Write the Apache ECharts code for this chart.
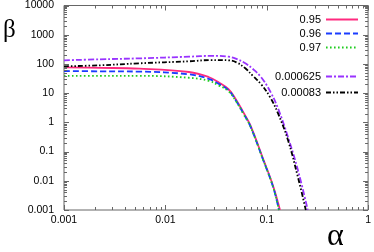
<!DOCTYPE html>
<html>
<head>
<meta charset="utf-8">
<script src="https://cdn.jsdelivr.net/npm/echarts@6/dist/echarts.min.js"></script>
<style>html,body{margin:0;padding:0;background:#fff}#c{width:374px;height:252px}</style>
</head>
<body>
<div id="c"></div>
<script>
// ---- data: alpha (x) and beta (y) ----
const seriesNames = ['0.95', '0.96', '0.97', '0.000625', '0.00083'];

const alpha095 = [0.001, 0.00225, 0.00553, 0.0171, 0.0267, 0.0335, 0.042, 0.0502, 0.0587, 0.0689, 0.0923, 0.1156, 0.1352];
const beta095  = [76.5, 73.6, 69, 52.9, 35.7, 23.6, 13.6, 5.73, 2.23, 0.80, 0.0555, 0.00665, 0.001];

const alpha096 = [0.001, 0.00225, 0.00553, 0.0171, 0.0267, 0.0335, 0.042, 0.0502, 0.0587, 0.0689, 0.0923, 0.1156, 0.132];
const beta096  = [57.3, 55.9, 54.6, 44.2, 31, 20.9, 12.6, 5.3, 2.06, 0.741, 0.0513, 0.00614, 0.001];

const alpha097 = [0.001, 0.00225, 0.00553, 0.0171, 0.0267, 0.0335, 0.042, 0.0502, 0.0587, 0.0689, 0.0923, 0.1156, 0.132];
const beta097  = [39.2, 39.2, 39.2, 33.6, 26.5, 18.6, 11.6, 5.08, 1.98, 0.741, 0.0513, 0.00614, 0.001];

const alphaP = [0.001, 0.00225, 0.00553, 0.0171, 0.0286, 0.042, 0.0502, 0.0615, 0.0736, 0.0881, 0.108, 0.129, 0.162, 0.203, 0.254];
const betaP  = [133, 144, 155, 177, 189, 177, 149, 105, 65.5, 34.9, 11.6, 3.05, 0.313, 0.0234, 0.001];

const alphaK = [0.001, 0.00225, 0.00553, 0.0171, 0.0286, 0.042, 0.0502, 0.0615, 0.0736, 0.0881, 0.108, 0.129, 0.162, 0.203, 0.243];
const betaK  = [82.8, 89.6, 105, 123, 136, 133, 113.5, 70.8, 37.8, 20.1, 7.24, 2.06, 0.247, 0.0135, 0.001];

const xTickLabels = ['0.001', '0.01', '0.1', '1'];
const yTickLabels = ['0.001', '0.01', '0.1', '1', '10', '100', '1000', '10000'];
const xMajor = [0.001, 0.01, 0.1, 1];
const yMajor = [0.001, 0.01, 0.1, 1, 10, 100, 1000, 10000];
const minorMultipliers = [2, 3, 4, 5, 6, 7, 8, 9];

// ---- helpers ----
const X_MIN = 0.001, X_MAX = 1, Y_MIN = 0.001, Y_MAX = 10000;
const X_MID = 0.03, Y_MID = 1;   // anchors well inside the ranges
function pairs(a, b) { return a.map((v, i) => [v, b[i]]); }
function minorsOf(majors) {
  const out = [];
  majors.slice(0, -1).forEach(d => minorMultipliers.forEach(m => out.push(+(d * m).toPrecision(3))));
  return out;
}

const axisColor = '#666';
const font = '"Liberation Sans", Arial, sans-serif';
const crisp = v => Math.round(v) + 0.5;

// inward ticks on all four sides; positions come from the axes' scales
function tickSeries(name, values, isX, len) {
  const data = values.map(v => isX ? [v, Y_MID] : [X_MID, v]);
  return {
    name: name, type: 'custom', data: data, xAxisIndex: 0, yAxisIndex: 0, z: 5,
    silent: true, animation: false,
    renderItem: function (params, api) {
      const cs = params.coordSys;
      const st = { stroke: axisColor, lineWidth: 1 };
      const c = api.coord([api.value(0), api.value(1)]);
      if (isX) {
        const x = crisp(c[0]);
        const yb = cs.y + cs.height, yt = cs.y;
        return { type: 'group', children: [
          { type: 'line', shape: { x1: x, y1: yb, x2: x, y2: yb - len }, style: st },
          { type: 'line', shape: { x1: x, y1: yt, x2: x, y2: yt + len }, style: st }
        ] };
      }
      const y = crisp(c[1]);
      const xl = cs.x, xr = cs.x + cs.width;
      return { type: 'group', children: [
        { type: 'line', shape: { x1: xl, y1: y, x2: xl + len, y2: y }, style: st },
        { type: 'line', shape: { x1: xr, y1: y, x2: xr - len, y2: y }, style: st }
      ] };
    }
  };
}

const chart = echarts.init(document.getElementById('c'), null, { renderer: 'canvas' });

const lineBase = (name, data, color, type) => ({
  name: name, type: 'line', data: data, xAxisIndex: 0, yAxisIndex: 0,
  symbol: 'none', showSymbol: false, smooth: 0.4, clip: true,
  lineStyle: { color: color, width: 1.8, type: type },
  itemStyle: { color: color },
  emphasis: { disabled: true }, animation: false
});

const legendCommon = {
  orient: 'vertical', right: 15, align: 'right',
  itemWidth: 32, itemHeight: 12, padding: 0, selectedMode: false,
  itemStyle: { opacity: 0 },
  textStyle: { color: '#000', fontFamily: font, fontSize: 11 }
};

chart.setOption({
  animation: false,
  grid: { show: true, borderColor: axisColor, borderWidth: 1, backgroundColor: 'transparent',
          left: 64, right: 3, top: 5, bottom: 42, containLabel: false },
  xAxis: {
    type: 'log', logBase: 10, min: X_MIN, max: X_MAX, position: 'bottom',
    axisLine: { show: false, onZero: false },
    axisTick: { show: false }, splitLine: { show: false },
    axisLabel: { show: true, color: '#000', fontFamily: font, fontSize: 10.5, margin: 5,
      formatter: (v, i) => xTickLabels[i] }
  },
  yAxis: {
    type: 'log', logBase: 10, min: Y_MIN, max: Y_MAX, splitNumber: 7, position: 'left',
    axisLine: { show: false, onZero: false },
    axisTick: { show: false }, splitLine: { show: false },
    axisLabel: { show: true, color: '#000', fontFamily: font, fontSize: 10.5, margin: 10,
      formatter: (v, i) => yTickLabels[i] }
  },
  legend: [
    Object.assign({ data: seriesNames.slice(0, 3), top: 14, itemGap: 3 }, legendCommon),
    Object.assign({ data: seriesNames.slice(3), top: 71, itemGap: 5 }, legendCommon)
  ],
  graphic: [
    { type: 'text', left: 3, top: 18, silent: true,
      style: { text: 'β', font: '25px "Liberation Serif", "DejaVu Serif", serif', fill: '#000' } },
    { type: 'text', left: 327, top: 221, silent: true,
      style: { text: 'α', font: '32px "Liberation Serif", "DejaVu Serif", serif', fill: '#000' } }
  ],
  series: [
    tickSeries('xMajorTicks', xMajor, true, 5),
    tickSeries('xMinorTicks', minorsOf(xMajor), true, 3),
    tickSeries('yMajorTicks', yMajor, false, 5),
    tickSeries('yMinorTicks', minorsOf(yMajor), false, 3),
    lineBase(seriesNames[0], pairs(alpha095, beta095), '#ff2a7f', 'solid'),
    lineBase(seriesNames[1], pairs(alpha096, beta096), '#1a3cff', [6, 3]),
    lineBase(seriesNames[2], pairs(alpha097, beta097), '#1fcc1f', [1.6, 2.4]),
    lineBase(seriesNames[3], pairs(alphaP, betaP), '#9933ff', [6, 2, 2, 2]),
    lineBase(seriesNames[4], pairs(alphaK, betaK), '#000000', [5, 2, 1.5, 2, 1.5, 2])
  ]
});
</script>
</body>
</html>
